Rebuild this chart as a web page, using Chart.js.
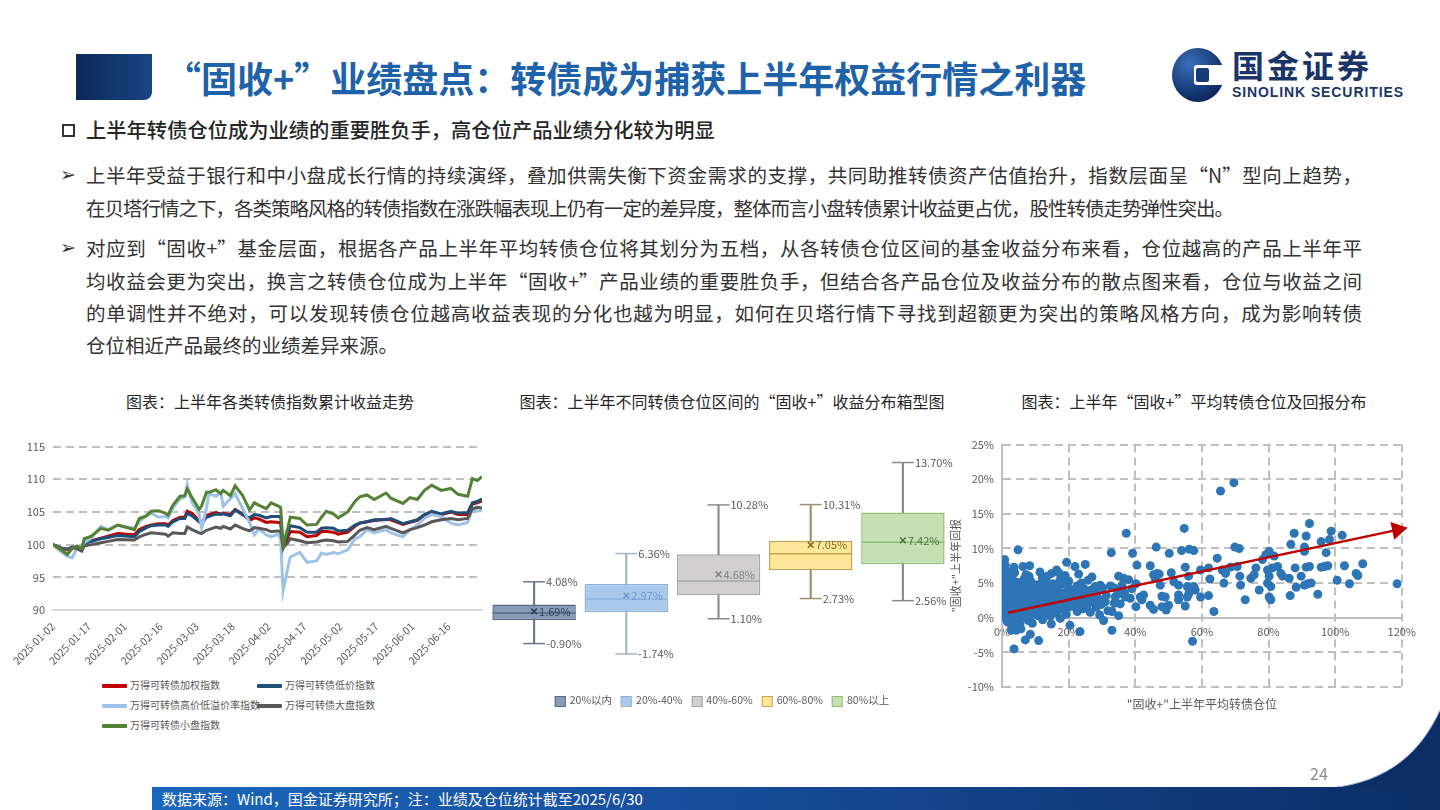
<!DOCTYPE html>
<html lang="zh-CN">
<head>
<meta charset="utf-8">
<title>“固收+”业绩盘点</title>
<script src="https://cdn.jsdelivr.net/npm/chart.js@4.4.1/dist/chart.umd.min.js"></script>
<style>
  body { margin: 0; background: #fff; }
  #page { position: relative; width: 1440px; height: 810px; overflow: hidden; background: #fff;
          font-family: "Noto Sans CJK SC", sans-serif; color: #262626; }
  .abs { position: absolute; }
  #headBlock { left: 76px; top: 54px; width: 76px; height: 46px; border-radius: 0 0 8px 0;
               background: linear-gradient(90deg, #0b2858, #1a4584); }
  #title { left: 165px; top: 50px; font-size: 36px; font-weight: 700; color: #1e62aa; line-height: 54px; white-space: nowrap; }
  #logoIcon { left: 1172px; top: 48px; width: 52px; height: 54px; border-radius: 50%;
              background: radial-gradient(circle at 35% 30%, #3a6fba, #0d2a60 72%); }
  #logoIcon::before { content: ''; position: absolute; left: 22px; top: 17px; width: 30px; height: 20px; background: #fff; border-radius: 3px; }
  #logoIcon::after { content: ''; position: absolute; left: 24px; top: 20px; width: 13px; height: 14px; background: #163b7a; border-radius: 2px; }
  #logoCn { left: 1232px; top: 44px; font-size: 32px; font-weight: 700; color: #1a3668; letter-spacing: 3px; line-height: 40px; }
  #logoEn { left: 1232px; top: 84px; font-family: "Liberation Sans", sans-serif; font-size: 14px; font-weight: 700; color: #1a3668; line-height: 16px; letter-spacing: 0.9px; }
  #subBox { left: 62px; top: 124px; width: 9px; height: 9px; border: 2px solid #333; }
  #subTitle { left: 86px; top: 113px; font-size: 20.3px; font-weight: 500; line-height: 33px; white-space: nowrap; }
  .arrow { left: 60px; font-size: 19px; line-height: 33px; color: #333; font-family: "DejaVu Sans", sans-serif; }
  .line { left: 86px; font-size: 19.5px; line-height: 33px; color: #333; white-space: nowrap; }
  .just { width: 1276px; text-align: justify; text-align-last: justify; }
  .ctitle { top: 390px; font-size: 16px; line-height: 22px; color: #262626; white-space: nowrap; transform: translateX(-50%); }
  .leg { font-size: 10px; color: #595959; line-height: 14px; white-space: nowrap; }
  .leg i { display: inline-block; vertical-align: middle; }
  .lsw { width: 25px; height: 4px; margin-right: 3px; border-radius: 1px; }
  .bsw { width: 9px; height: 9px; border: 1px solid; margin-right: 4px; }
  #boxLegend { left: 722px; top: 693px; transform: translateX(-50%); display: flex; gap: 9px; }
  #boxLegend .leg { font-size: 10.5px; }
  #footBand { left: 152px; top: 787px; width: 1288px; height: 23px;
              background: linear-gradient(90deg, #1b66bd 0%, #164c98 45%, #0c2d66 100%); }
  #footText { left: 162px; top: 787px; font-size: 15px; line-height: 23px; color: #fff; white-space: nowrap; }
  #pageNo { left: 1310px; top: 762px; font-size: 16px; color: #8c8c8c; line-height: 22px; }
</style>
</head>
<body>
<div id="page">
  <div id="headBlock" class="abs"></div>
  <div id="title" class="abs">“固收+”业绩盘点：转债成为捕获上半年权益行情之利器</div>
  <div id="logoIcon" class="abs"></div>
  <div id="logoCn" class="abs">国金证券</div>
  <div id="logoEn" class="abs">SINOLINK SECURITIES</div>

  <div id="subBox" class="abs"></div>
  <div id="subTitle" class="abs">上半年转债仓位成为业绩的重要胜负手，高仓位产品业绩分化较为明显</div>

  <div class="abs arrow" style="top:158px">➢</div>
  <div class="abs line just" style="top:158px">上半年受益于银行和中小盘成长行情的持续演绎，叠加供需失衡下资金需求的支撑，共同助推转债资产估值抬升，指数层面呈“N”型向上趋势，</div>
  <div class="abs line" style="top:191px;letter-spacing:-1px">在贝塔行情之下，各类策略风格的转债指数在涨跌幅表现上仍有一定的差异度，整体而言小盘转债累计收益更占优，股性转债走势弹性突出。</div>

  <div class="abs arrow" style="top:231px">➢</div>
  <div class="abs line just" style="top:231px">对应到“固收+”基金层面，根据各产品上半年平均转债仓位将其划分为五档，从各转债仓位区间的基金收益分布来看，仓位越高的产品上半年平</div>
  <div class="abs line just" style="top:264px">均收益会更为突出，换言之转债仓位成为上半年“固收+”产品业绩的重要胜负手，但结合各产品仓位及收益分布的散点图来看，仓位与收益之间</div>
  <div class="abs line just" style="top:296px">的单调性并不绝对，可以发现转债仓位越高收益表现的分化也越为明显，如何在贝塔行情下寻找到超额更为突出的策略风格方向，成为影响转债</div>
  <div class="abs line" style="top:328px">仓位相近产品最终的业绩差异来源。</div>

  <div class="abs ctitle" style="left:270px">图表：上半年各类转债指数累计收益走势</div>
  <div class="abs ctitle" style="left:732px">图表：上半年不同转债仓位区间的“固收+”收益分布箱型图</div>
  <div class="abs ctitle" style="left:1194px">图表：上半年“固收+”平均转债仓位及回报分布</div>

  <div class="abs" style="left:0;top:432px;width:490px;height:243px"><canvas id="idxChart" width="490" height="243"></canvas></div>
  <div class="abs" style="left:488px;top:434px;width:473px;height:248px"><canvas id="boxChart" width="473" height="248"></canvas></div>
  <div class="abs" style="left:945px;top:430px;width:478px;height:282px"><canvas id="fundChart" width="478" height="282"></canvas></div>

  <div id="idxLegend"></div>
  <div id="boxLegend" class="abs"></div>

  <svg class="abs" style="left:1290px;top:700px" width="150" height="110">
    <path d="M150,10 C132,50 100,82 40,88 L150,88 Z" fill="#0c2d66"/>
    <path d="M150,10 C132,50 100,82 40,88" fill="none" stroke="#9fb6d8" stroke-width="1"/>
  </svg>
  <div id="footBand" class="abs"></div>
  <div id="footText" class="abs">数据来源：Wind，国金证券研究所；注：业绩及仓位统计截至2025/6/30</div>
  <div id="pageNo" class="abs">24</div>
</div>

<script>
// ---------- 图1：各类转债指数累计收益（2025-01-02 起的自然日偏移） ----------
const idxDays = [0,3,6,8,10,12,13,16,20,23,27,34,36,39,41,44,47,48,50,53,55,56,58,61,62,64,65,68,70,71,74,76,79,82,84,86,89,91,94,95,96,98,99,103,106,110,112,114,117,119,123,126,128,131,134,139,141,146,149,152,155,158,162,166,169,173,175,177,179];
const idxTickLabels = ['2025-01-02','2025-01-17','2025-02-01','2025-02-16','2025-03-03','2025-03-18','2025-04-02','2025-04-17','2025-05-02','2025-05-17','2025-06-01','2025-06-16'];

const idxWeighted = [100,99.5,99.2,99.6,99.6,99.2,100.3,100.6,101,101.3,101.7,101.5,102.3,102.8,103,103.2,103.2,103,103.7,104.2,104.2,105.1,104.8,103.6,103.3,104.5,104.6,104.9,104.7,104.8,104.6,105.4,104.7,103.7,104.1,103.9,103.4,103.5,103.4,103.3,99.5,101.2,102,101.9,101.2,101.4,102,102,101.9,101.6,101.9,102.8,103.3,103.5,103.7,103.9,103.8,103.1,103.4,103.7,104.5,105,104.6,105,104.6,104.6,106.2,106.4,106.7];
const idxLowPrice = [100,99.5,99.3,99.6,99.6,99.3,100.2,100.5,100.9,101.1,101.4,101.2,102,102.6,102.9,103,103,102.8,103.5,104,104,104.8,104.4,103.5,103.2,104.2,104.3,104.7,104.6,104.7,104.4,105.3,104.6,104.1,104.6,104.5,104.1,104.3,104.3,104.3,99.6,101.8,102.9,102.6,101.9,101.9,102.5,102.6,102.5,102.1,102.2,103,103.3,103.5,103.8,103.8,104,103.2,103.5,103.8,104.6,105.1,104.7,105.1,104.8,104.9,106.4,106.6,107];
const idxHighLowPrem = [100,99,98.2,98,99.4,99.4,100.3,101,102.8,102.3,103,102.5,103.5,104.5,104.8,104.2,104.3,104.1,105.6,107,107.3,109.2,106.5,104.6,102.5,105.5,107.8,107.4,108,105.9,107,107.8,105.6,103.4,101.5,102.4,101.5,101.2,101.6,100.8,92.9,96.5,98.1,98.8,97.3,97.5,98.7,98.5,98.8,98.6,99.2,100.9,101.2,102.3,101.8,102.3,101.8,101.2,102.3,103,104,104.6,104.3,103.3,103,103.4,105.3,105.2,105.2];
const idxLargeCap = [100,99.5,99.3,99.5,99.4,99,99.8,100,100.3,100.5,100.8,100.7,101.2,101.6,101.8,101.7,101.6,101.3,101.8,101.7,101.7,102.7,102.3,101.8,101.7,102.2,102.3,102.7,102.5,102.8,102.4,103,102.5,102.1,102.6,102.5,102.3,102,102.1,102,99.5,100.3,100.9,100.6,100.3,100.4,100.6,100.7,100.6,100.4,100.5,101.5,102.2,102.6,102.3,102.8,102.5,101.8,102.3,102.6,103,103.5,103.8,104,103.8,104,105.5,105.7,105.6];
const idxSmallCap = [100,99.3,98.5,99.4,99.8,99.4,100.9,101.3,102.5,102.2,103,102.3,104,104.4,105.1,105.2,104.8,104.5,106,107.4,107.5,108.5,107.2,105.4,105.9,108,108,108.4,107.8,108.3,107.5,109,107.6,105.3,106.4,106,105.5,106.4,105.9,105.7,99.9,102.6,104.2,104,103,103.1,104.2,105.1,104.7,104.1,105,106.6,107.3,107.6,106.9,107.9,107.1,106.3,107.2,106.9,108.3,109.1,108.3,108.6,107.7,107.4,110.1,109.8,110.4];

const idxNames = ['万得可转债加权指数','万得可转债低价指数','万得可转债高价低溢价率指数','万得可转债大盘指数','万得可转债小盘指数'];
const idxSeries = [idxWeighted, idxLowPrice, idxHighLowPrem, idxLargeCap, idxSmallCap];
const idxColors = ['#c00000','#1f4e79','#9dc3e6','#595959','#548235'];

// ---------- 图2：不同转债仓位区间收益箱型图（%） ----------
const boxCats = ['20%以内','20%-40%','40%-60%','60%-80%','80%以上'];
const boxMin = [-0.90,-1.74,1.10,2.73,2.56];
const boxQ1 = [1.00,1.64,2.99,5.01,5.49];
const boxMedian = [1.56,2.69,4.14,6.35,7.27];
const boxQ3 = [2.24,3.90,6.30,7.40,9.66];
const boxMax = [4.08,6.36,10.28,10.31,13.70];
const boxMean = [1.69,2.97,4.68,7.05,7.42];

const boxFill = ['#8a9cb5','#a9c8ea','#d0cece','#ffe699','#c5e0b4'];
const boxLine = ['#56698a','#8fb3dd','#a6a6a6','#c4a450','#8fbf75'];
const whiskerColors = ['#6a7a90','#a3b3c6','#8c8c8c','#9c9070','#8c8c8c'];
const meanColors = ['#2f3f5a','#6b9bd2','#7f7f7f','#7f6a2a','#556b45'];

// ---------- 图3：平均转债仓位（%） vs 上半年回报（%） ----------
const fundPoints = [
  [0.8,8.4],[1,7.6],[1.2,6.8],[0.9,6.1],[1.1,5.2],[0.7,4.6],[1.3,4.1],[0.8,3.6],[1.2,3.1],[0.6,2.6],[1.0,2.2],[1.4,1.7],[0.7,1.2],[1.1,0.8],[0.9,0.3],[1.3,-0.2],[1.6,-0.6],
  [2,5.6],[2.2,4.8],[1.9,4.2],[2.3,3.4],[1.8,2.8],[2.4,2.1],[2.1,1.5],[1.7,0.9],[2.5,0.4],[2.2,-0.3],[2.8,-1.1],[2.6,6.4],[2.9,3.8],[3,2.5],[3.2,1.2],[2.7,0.1],
  [3.6,7.3],[3.8,6.5],[3.4,5.4],[4,4.6],[3.7,3.9],[4.3,3.3],[3.5,2.7],[4.1,2.0],[3.9,1.3],[4.5,0.7],[3.6,0.2],[4.2,-0.5],[4.8,5.1],[5,4.2],[5.3,3.6],[4.7,2.9],[5.5,2.3],[5.1,1.6],[5.6,0.9],[4.9,0.3],[5.4,-0.9],[4.8,9.8],[5.8,4.8],[5.9,3.0],[6.0,1.9],[5.7,-1.6],[3.6,-4.5],[2.8,-1.8],[4.3,-1.8],
  [6.3,7.4],[6.6,5.6],[6.2,4.3],[6.9,3.6],[6.5,2.8],[7.1,2.2],[6.8,1.4],[7.3,0.6],[6.4,0.1],[7.0,-3.2],[7.5,4.9],[7.8,4.0],[7.6,3.1],[8.0,2.5],[7.7,1.8],[8.2,1.0],[7.9,-0.4],[8.3,7.5],[8.5,-2.4],[8.6,5.3],[8.8,4.4],[9.0,3.5],[8.7,2.9],[9.2,2.1],[8.9,1.3],[9.4,0.5],[9.1,-0.8],[9.6,4.8],[9.8,3.2],[9.5,1.7],[10,2.6],[10.2,0.9],[7.2,6.2],[8.1,6.0],
  [10.5,4.3],[10.8,3.7],[10.4,2.0],[11,1.3],[10.7,0.3],[11.4,6.6],[11,-3.3],[11.5,4.9],[11.8,3.0],[11.3,2.4],[12,1.8],[11.7,0.8],[12.2,-0.3],[12.5,4.4],[12.8,3.4],[12.4,2.7],[13,1.5],[12.7,0.6],[13.3,5.2],[13.5,3.9],[13.2,2.2],[13.8,1.0],[14,3.0],[14.3,4.6],[14.1,1.9],[14.6,2.5],[14.9,6.4],[14.5,0.2],[15,3.6],[14.8,-0.9],[13.6,6.0],[12.1,5.7],
  [15.3,4.9],[15.6,2.8],[15.4,1.4],[15.9,3.9],[16.4,6.9],[16.1,2.2],[16.6,4.4],[16.3,0.7],[16.9,3.2],[17.2,1.7],[17.4,5.4],[17.7,2.6],[17.5,-0.1],[18,3.6],[18.3,4.9],[18.1,1.2],[18.6,2.9],[18.9,6.1],[19.4,8.0],[19.1,3.4],[19.6,2.1],[19.3,0.5],[19.8,4.4],[20,5.3],[19.9,1.5],[20.4,-1.1],[17.0,6.5],
  [20.5,3.0],[20.8,2.3],[21.2,4.0],[21.5,1.6],[21.9,7.4],[21.8,3.3],[22.2,2.7],[22.5,4.6],[22.6,0.9],[23,6.3],[23.4,-2.0],[23.2,3.8],[23.5,2.0],[23.8,5.0],[24.1,3.0],[24.3,1.3],[24.6,4.2],[25,7.7],[24.9,2.5],[25.3,3.6],[25.6,1.8],[25.8,5.4],[26.2,2.9],[26.5,0.8],[26.8,4.0],
  [27,5.9],[27.2,3.4],[27.5,2.2],[27.9,4.5],[28.3,1.5],[28.6,3.8],[29,2.7],[29.3,0.4],[29.5,4.7],[29.8,1.9],[30.2,4.3],[30.5,-0.4],[30.8,2.4],[31.3,3.2],[31.8,1.0],
  [31,2.3],[32.5,4.6],[34,3.0],[35.5,2.0],[36.8,3.6],[38.5,2.8],[39,4.2],
  [37.3,12.2],[32.8,9.4],[39.2,9.3],[35,6.0],[36.5,5.7],[38,5.5],[36,4.7],[33.7,4.3],[37,3.0],[35,3.5],[33.7,2.1],[35,0.3],[33,0.9],[33,-1.8],
  [40.5,7.6],[40.2,4.9],[40.2,1.6],[41.5,3.0],[42,2.6],[42.5,3.3],[44.5,7.5],[45.5,6.2],[46.5,6.4],[46,5.7],[47.2,6.3],[47.5,4.7],[46.3,10.2],[50.2,9.3],[50.8,6.5],[51.6,5.2],[53,4.7],
  [44.5,1.8],[45.5,1.2],[48,3.1],[49,3.0],[48,1.6],[49.3,1.1],[50,1.8],[53,3.3],[53,2.6],
  [54.7,12.9],[53.9,9.7],[56.2,9.9],[57.6,9.7],[55,7.3],[56,6.0],[56.6,4.3],[55.6,4.5],[57.6,4.5],[58,4.0],[56.1,3.5],[55.6,3.0],[55,1.7],[59.6,6.9],[59.6,3.0],[57.2,-3.4],
  [62,3.2],[62,7.2],[62.4,5.6],[64.6,8.6],[63.6,0.9],[65.6,18.3],[69.6,19.5],[69.9,10.2],[71.2,10],[66.1,6.9],[67.1,6.4],[66.6,5.0],[68.6,7.3],[70.6,7.4],[71.4,6.0],[71.6,4.7],[73,2.6],
  [74.7,5.7],[75.7,6.2],[76.2,7.2],[77.2,4.0],[78.2,8.4],[79.2,9.1],[80.2,9.6],[79.7,6.9],[80.2,6.0],[79.7,5.0],[80.7,4.5],[80.2,3.0],[80.7,2.6],[81.7,8.9],[82.7,7.4],[83.7,6.4],[84.2,6.0],[81.2,7.2],
  [86.2,5.7],[86.5,3.2],[86.7,10.6],[87.7,12.2],[88,7.2],[88.3,4.4],[89.8,6.0],[90.8,10.2],[91.3,11.8],[92.3,13.6],[90.8,9.6],[91.3,7.3],[92.3,7.4],[90.8,4.7],[92.8,5.0],[91.8,4.9],
  [94.8,3.4],[95.8,11.0],[95.8,7.3],[96.8,7.4],[97.8,7.5],[97.3,9.4],[98.3,11.3],[98.8,12.5],[100.6,5.4],[102.1,11.9],[102.8,7.5],[104.3,4.9],[106.3,6.4],[106.8,6.1],[108.3,7.8],[118.6,4.9]
];
// 趋势箭头（起点、终点）
const trendX = [1.8, 118.7];
const trendY = [0.73, 12.69];

const pct = v => v.toFixed(2) + '%';

Chart.defaults.font.family = '"Noto Sans CJK SC", sans-serif';
Chart.defaults.color = '#595959';
Chart.defaults.animation = false;
Chart.defaults.events = [];
Chart.defaults.plugins.legend.display = false;
Chart.defaults.plugins.tooltip.enabled = false;

// 图1
new Chart(document.getElementById('idxChart'), {
  type: 'line',
  data: {
    // later index drawn below, so the small-cap line sits on top
    datasets: [4, 3, 2, 1, 0].map(k => ({
      label: idxNames[k],
      data: idxDays.map((d, i) => ({ x: d, y: idxSeries[k][i] })),
      borderColor: idxColors[k],
      borderWidth: 3,
      pointRadius: 0,
      tension: 0
    }))
  },
  options: {
    responsive: false,
    devicePixelRatio: 1,
    layout: { autoPadding: false, padding: { left: 0, right: 8, top: 0, bottom: 0 } },
    scales: {
      x: {
        type: 'linear', min: 0, max: 179,
        afterFit: s => { s.height = 65; },
        grid: { display: false },
        border: { display: true, color: '#d9d9d9', width: 2 },
        ticks: {
          stepSize: 15, includeBounds: false, autoSkip: false,
          minRotation: 45, maxRotation: 45, padding: 2,
          font: { size: 10.5 }, color: '#595959',
          callback: (v, i) => idxTickLabels[i]
        }
      },
      y: {
        min: 90, max: 115,
        afterFit: s => { s.width = 53; },
        grid: { color: c => c.tick && c.tick.value === 90 ? 'rgba(0,0,0,0)' : '#bfbfbf', lineWidth: 2, drawTicks: false },
        border: { display: false, dash: [8, 5] },
        ticks: { stepSize: 5, padding: 8, font: { size: 11 }, color: '#595959' }
      }
    }
  }
});

// 图1 图例
const legendPos = [[102, 678], [257, 678], [102, 698], [257, 698], [102, 718]];
const idxLegend = document.getElementById('idxLegend');
idxNames.forEach((n, k) => {
  const d = document.createElement('div');
  d.className = 'abs leg';
  d.style.left = legendPos[k][0] + 'px';
  d.style.top = legendPos[k][1] + 'px';
  d.innerHTML = '<i class="lsw" style="background:' + idxColors[k] + '"></i>' + n;
  idxLegend.appendChild(d);
});

// 图2：箱型图标注
const boxLabels = {
  id: 'boxLabels',
  afterDatasetsDraw(chart) {
    const { ctx, scales: { x, y } } = chart;
    ctx.save();
    ctx.font = '11px "Noto Sans CJK SC"';
    ctx.textBaseline = 'middle';
    boxCats.forEach((c, i) => {
      const cx = x.getPixelForValue(i);
      ctx.fillStyle = '#595959';
      ctx.fillText(pct(boxMax[i]), cx + 12, y.getPixelForValue(boxMax[i]));
      ctx.fillText(pct(boxMin[i]), cx + 12, y.getPixelForValue(boxMin[i]));
      ctx.fillStyle = meanColors[i];
      ctx.fillText(pct(boxMean[i]), cx + 5, y.getPixelForValue(boxMean[i]));
    });
    ctx.restore();
  }
};

new Chart(document.getElementById('boxChart'), {
  type: 'bar',
  data: {
    labels: boxCats,
    datasets: [
      { label: 'whisker', data: boxMin.map((v, i) => [v, boxMax[i]]), backgroundColor: whiskerColors,
        barThickness: 1.5, grouped: false, order: 3 },
      { label: 'box', data: boxQ1.map((v, i) => [v, boxQ3[i]]), backgroundColor: boxFill, borderColor: boxLine,
        borderWidth: 1.5, borderSkipped: false, grouped: false, barPercentage: 0.905, categoryPercentage: 1, order: 2 },
      { type: 'line', label: 'median', data: boxMedian, showLine: false, pointStyle: 'line',
        pointRadius: 41.5, pointBorderColor: boxLine, pointBorderWidth: 1.5, order: 1 },
      { type: 'line', label: 'max', data: boxMax, showLine: false, pointStyle: 'line',
        pointRadius: 11, pointBorderColor: whiskerColors, pointBorderWidth: 1.5, order: 1 },
      { type: 'line', label: 'min', data: boxMin, showLine: false, pointStyle: 'line',
        pointRadius: 11, pointBorderColor: whiskerColors, pointBorderWidth: 1.5, order: 1 },
      { type: 'line', label: 'mean', data: boxMean, showLine: false, pointStyle: 'crossRot',
        pointRadius: 4, pointBorderColor: meanColors, pointBorderWidth: 1.5, order: 0 }
    ]
  },
  options: {
    responsive: false,
    devicePixelRatio: 1,
    layout: { autoPadding: false, padding: { left: 0, right: 12, top: 0, bottom: 0 } },
    scales: {
      x: { display: false, offset: true },
      y: { display: false, min: -4, max: 16 }
    }
  },
  plugins: [boxLabels]
});

// 图2 图例
const boxLegend = document.getElementById('boxLegend');
boxCats.forEach((c, i) => {
  const d = document.createElement('div');
  d.className = 'leg';
  d.innerHTML = '<i class="bsw" style="background:' + boxFill[i] + ';border-color:' + boxLine[i] + '"></i>' + c;
  boxLegend.appendChild(d);
});

// 图3
new Chart(document.getElementById('fundChart'), {
  type: 'scatter',
  data: {
    datasets: [
      { type: 'line', label: 'trend', data: trendX.map((v, i) => ({ x: v, y: trendY[i] })),
        borderColor: '#c00000', borderWidth: 2.5, pointStyle: 'triangle', pointRadius: [0, 8],
        pointRotation: [0, 78], pointBackgroundColor: '#c00000', pointBorderColor: '#c00000',
        clip: false, order: 0 },
      { label: 'funds', data: fundPoints.map(p => ({ x: p[0], y: p[1] })),
        backgroundColor: '#2e75b6', borderColor: '#2e75b6', borderWidth: 0, pointRadius: 4.5, order: 1 }
    ]
  },
  options: {
    responsive: false,
    devicePixelRatio: 1,
    layout: { autoPadding: false, padding: 0 },
    scales: {
      x: {
        type: 'linear', min: 0, max: 120, position: { y: 0 },
        grid: { color: '#bfbfbf', lineWidth: 2, drawTicks: false },
        border: { display: true, color: '#bfbfbf', width: 2, dash: [8, 5] },
        ticks: { stepSize: 20, padding: 7, font: { size: 11 }, color: '#595959', callback: v => v + '%' }
      },
      x2: {
        type: 'linear', position: 'bottom', min: 0, max: 1,
        afterFit: s => { s.height = 25; },
        grid: { display: false }, border: { display: false }, ticks: { display: false },
        title: { display: true, text: '"固收+"上半年平均转债仓位', color: '#595959', font: { size: 12 }, padding: { top: 6, bottom: 0 } }
      },
      y: {
        min: -10, max: 25,
        afterFit: s => { s.width = 57; },
        grid: { color: '#bfbfbf', lineWidth: 2, drawTicks: false },
        border: { display: true, color: '#bfbfbf', width: 2, dash: [8, 5] },
        ticks: { stepSize: 5, padding: 8, font: { size: 11 }, color: '#595959', callback: v => v + '%' },
        title: { display: true, text: '"固收+"上半年回报', color: '#595959', font: { size: 11 }, padding: { top: 4, bottom: 0 } }
      }
    }
  }
});
</script>
</body>
</html>
